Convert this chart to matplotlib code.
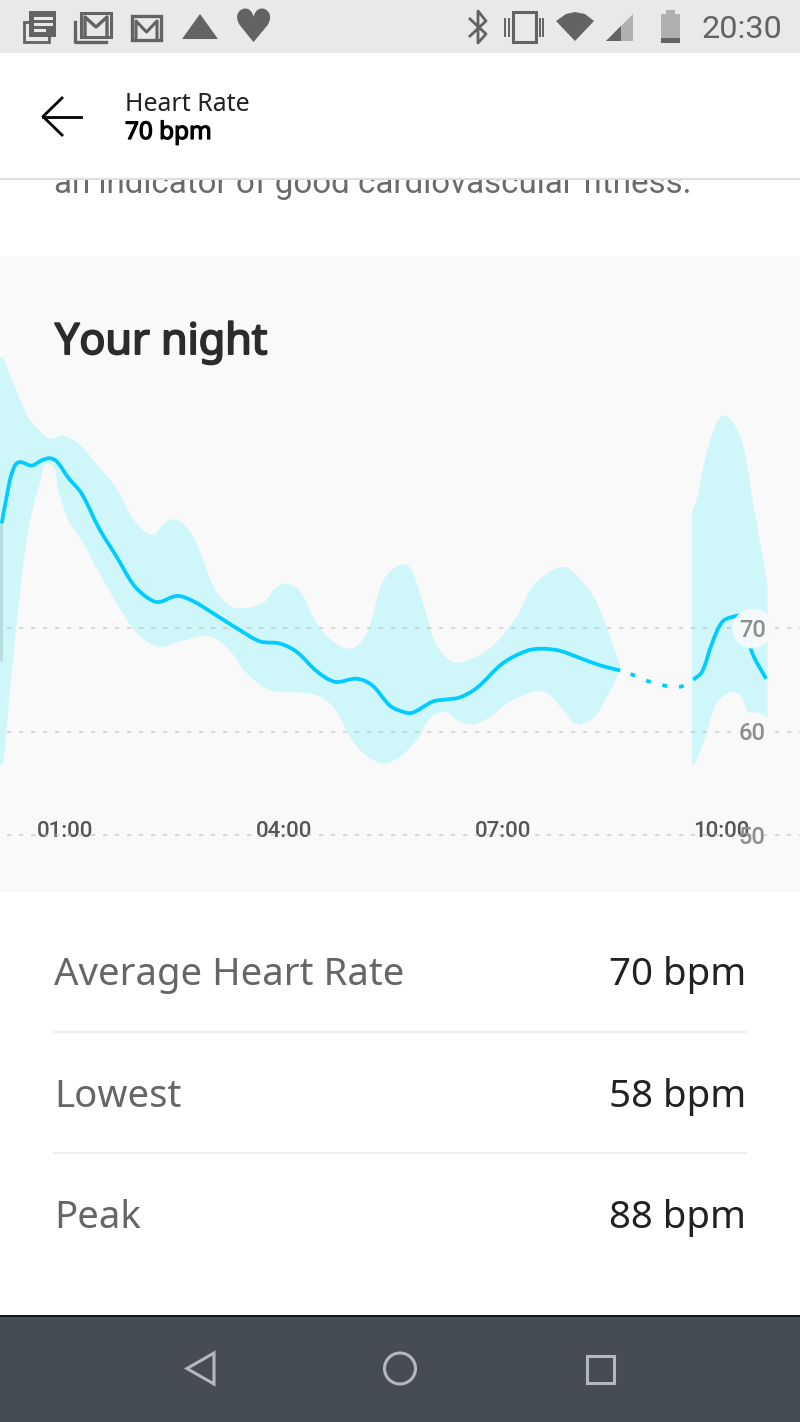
import numpy as np
import matplotlib
matplotlib.use('Agg')
import matplotlib.pyplot as plt
import matplotlib.patheffects as pe
from matplotlib.patches import Circle, PathPatch, Polygon, Rectangle
from matplotlib.path import Path

# ── DATA (hours after midnight, bpm)
line_hours = [0.125, 0.193, 0.262, 0.353, 0.536, 0.674, 0.787, 0.879, 1.04, 1.22, 1.47, 1.70, 1.93, 2.11,
              2.27, 2.53, 2.75, 3.03, 3.39, 3.67, 3.94, 4.17, 4.45, 4.70, 4.99, 5.20, 5.45, 5.59, 5.75,
              6.04, 6.23, 6.41, 6.64, 7.00, 7.33, 7.55, 7.78, 8.02, 8.33, 8.61]
line_bpm = [80.1, 82.7, 84.9, 86.0, 85.7, 86.2, 86.4, 86.1, 84.5, 83.0, 79.5, 76.9, 74.2, 73.0,
            72.5, 73.1, 72.6, 71.4, 69.8, 68.7, 68.5, 67.7, 65.8, 64.8, 65.1, 64.5, 62.5, 62.0, 61.8,
            62.9, 63.1, 63.3, 64.2, 66.6, 67.8, 68.0, 67.8, 67.2, 66.4, 65.9]

gap_hours = [8.61, 8.81, 9.02, 9.33, 9.47, 9.61]
gap_bpm = [65.9, 65.4, 64.8, 64.3, 64.4, 65.0]

end_hours = [9.61, 9.73, 9.87, 10.01, 10.16, 10.29, 10.42, 10.61]
end_bpm = [65.0, 65.75, 68.55, 70.6, 71.1, 71.1, 67.6, 65.1]

upper_hours = [0.10, 0.14, 0.28, 0.47, 0.65, 0.79, 0.97, 1.20, 1.43, 1.70, 1.95, 2.20, 2.34, 2.50, 2.68, 2.84,
               3.03, 3.21, 3.37, 3.71, 3.87, 4.03, 4.22, 4.49, 4.88, 5.13, 5.36, 5.59, 5.73, 5.86, 6.04,
               6.18, 6.37, 6.69, 6.92, 7.19, 7.44, 7.82, 8.02, 8.29, 8.61]
upper_bpm = [96.2, 96.1, 93.7, 90.6, 89.0, 88.3, 88.55, 87.7, 85.75, 83.5, 80.3, 79.0, 80.0, 80.5, 79.6, 77.5,
             74.0, 72.4, 71.9, 72.4, 73.8, 74.3, 73.5, 70.0, 68.0, 69.5, 74.6, 76.1, 75.8, 73.4, 69.2,
             67.4, 66.65, 67.4, 68.7, 71.1, 74.3, 75.9, 75.0, 72.4, 66.3]

lower_hours = [0.10, 0.14, 0.24, 0.38, 0.49, 0.65, 0.78, 0.90, 1.04, 1.24, 1.52, 1.79, 2.02, 2.30, 2.57, 2.96,
               3.21, 3.49, 3.81, 4.40, 4.67, 4.90, 5.09, 5.36, 5.59, 5.82, 6.00, 6.21, 6.37, 6.59, 6.82,
               7.10, 7.47, 7.65, 7.82, 8.02, 8.24, 8.43, 8.61]
lower_bpm = [56.8, 56.8, 64.0, 73.7, 79.5, 84.0, 85.9, 83.3, 80.4, 78.2, 74.6, 71.4, 69.2, 68.2, 68.7, 69.2,
             68.2, 65.6, 64.0, 63.6, 62.4, 59.5, 57.9, 56.9, 57.6, 59.2, 61.3, 61.9, 61.1, 60.7, 61.4,
             62.9, 63.9, 63.5, 62.1, 60.7, 61.3, 63.4, 65.9]

upper2_hours = [9.59, 9.66, 9.77, 9.89, 10.02, 10.16, 10.30, 10.41, 10.63]
upper2_bpm = [81.2, 82.4, 86.2, 89.1, 90.5, 89.8, 87.5, 83.0, 74.15]
lower2_hours = [9.59, 9.62, 9.75, 9.93, 10.14, 10.27, 10.36, 10.50, 10.63]
lower2_bpm = [56.9, 56.8, 58.9, 62.7, 63.8, 63.4, 61.9, 61.8, 61.4]

tick_hours = [1, 4, 7, 10]
tick_labels = ['01:00', '04:00', '07:00', '10:00']
grid_bpm = [50, 60, 70]

stat_names = ['Average Heart Rate', 'Lowest', 'Peak']
stat_values = ['70 bpm', '58 bpm', '88 bpm']

LINE = '#00ccff'
BAND = '#cff6f9'
PANEL = '#f9f9f9'
ICON = '#636363'
px_per_hour = 72.9
px_per_bpm = 10.35


def smooth(xs, ys):
    # bezier through the read points, only for drawing
    k = px_per_bpm / px_per_hour
    p = np.column_stack([xs, np.asarray(ys) * k])
    d = np.diff(p, axis=0)
    seg = np.hypot(d[:, 0], d[:, 1])
    t = np.vstack([d[0], p[2:] - p[:-2], d[-1]])
    t = t / np.hypot(t[:, 0], t[:, 1])[:, None]
    verts = [p[0]]
    for i in range(len(p) - 1):
        verts += [p[i] + t[i] * seg[i] / 3, p[i + 1] - t[i + 1] * seg[i] / 3, p[i + 1]]
    verts = [(v[0], v[1] / k) for v in verts]
    codes = [Path.MOVETO] + [Path.CURVE4] * (len(verts) - 1)
    return verts, codes


def band_path(up_x, up_y, low_x, low_y):
    v1, c1 = smooth(up_x, up_y)
    v2, c2 = smooth(low_x[::-1], low_y[::-1])
    c2[0] = Path.LINETO
    return Path(v1 + v2 + [v1[0]], c1 + c2 + [Path.CLOSEPOLY])


def fake_bold(txt, width):
    # Noto Sans only comes in one weight here
    txt.set_path_effects([pe.withStroke(linewidth=width, foreground=txt.get_color())])


fig = plt.figure(figsize=(8, 14.22), dpi=100, facecolor='white')

# ── SCREEN CHROME (pixel coordinates)
bg = fig.add_axes([0, 0, 1, 1])
bg.set_xlim(0, 800)
bg.set_ylim(1422, 0)
bg.axis('off')

bg.add_patch(Rectangle((0, 0), 800, 53, color='#e9e9e9', lw=0))
bg.add_patch(Rectangle((0, 178), 800, 2, color='#dedede', lw=0))
bg.add_patch(Rectangle((0, 256), 800, 636, color=PANEL, lw=0))
bg.add_patch(Rectangle((0, 1315), 800, 2, color='#15181a', lw=0))
bg.add_patch(Rectangle((0, 1317), 800, 105, color='#454c52', lw=0))

# news icon
bg.add_patch(Rectangle((24, 22), 25, 20, fc='none', ec=ICON, lw=2))
bg.add_patch(Rectangle((29, 11), 27, 26, fc=ICON, ec=ICON, lw=0))
bg.plot([35, 51], [18, 18], color='#e9e9e9', lw=2.2)
bg.plot([35, 51], [24, 24], color='#e9e9e9', lw=2.2)
bg.plot([35, 44], [30, 30], color='#e9e9e9', lw=2.2)
# mail stack
bg.plot([75, 75, 106], [22, 42, 42], color=ICON, lw=2.4)
bg.add_patch(Rectangle((81, 13), 30, 24, fc='none', ec=ICON, lw=2.2))
bg.plot([85, 85, 96, 107, 107], [35, 17, 27, 17, 35], color=ICON, lw=2.4)
# mail
bg.add_patch(Rectangle((132, 16), 29, 24, fc='none', ec=ICON, lw=2.4))
bg.plot([136, 136, 146.5, 157, 157], [39, 21, 32, 21, 39], color=ICON, lw=2.2)
# triangle
bg.add_patch(Polygon([(182, 39), (200, 14), (218, 39)], color=ICON, lw=0))
# heart
bg.text(253.5, 30, '♥', fontsize=33, color=ICON, ha='center', va='center', family='DejaVu Sans')
bg.plot([246, 256], [27, 13], color='#e9e9e9', lw=1.5)
# bluetooth
bg.plot([470, 486, 478, 478, 486, 470], [19, 34, 43, 11, 21, 36], color=ICON, lw=2)
# vibrate
bg.add_patch(Rectangle((513, 12), 23, 30, fc='none', ec=ICON, lw=2.2))
for vx in (505, 509, 540, 543):
    bg.plot([vx, vx], [19, 36], color=ICON, lw=1.4)
# wifi
bg.add_patch(Polygon([(556, 21), (566, 14), (575, 12), (585, 14), (594, 21), (575, 41)], color=ICON, lw=0))
# signal
bg.add_patch(Polygon([(606, 41), (633, 14), (633, 41)], color='#b0b0b0', lw=0))
bg.add_patch(Polygon([(606, 41), (621, 26), (621, 41)], color=ICON, lw=0))
# battery
bg.add_patch(Rectangle((661, 14), 19, 29, color='#b0b0b0', lw=0))
bg.add_patch(Rectangle((666, 10), 9, 4, color='#b0b0b0', lw=0))
bg.add_patch(Rectangle((661, 38), 19, 5, color=ICON, lw=0))
bg.text(782, 29, '20:30', fontsize=23.3, color=ICON, ha='right', va='center', family='Roboto')

# back arrow and header
bg.plot([81, 43], [116.5, 116.5], color='black', lw=2)
bg.plot([62, 43, 62], [98, 116.5, 135], color='black', lw=2)
bg.text(125, 104.5, 'Heart Rate', fontsize=17.95, color='#222222', va='center', family='Noto Sans')
head = bg.text(125, 133, '70 bpm', fontsize=17.5, color='black', va='center', family='Noto Sans')
fake_bold(head, 0.9)

cut = bg.text(54, 184, 'an indicator of good cardiovascular fitness.', fontsize=23.9, color='#6a6a6a',
              va='center', family='Roboto')
cut.set_clip_path(Rectangle((0, 180), 800, 76, transform=bg.transData))
cut.set_clip_on(True)

title = bg.text(55, 343, 'Your night', fontsize=31, color='#2b2b2b', va='center', family='Noto Sans')
fake_bold(title, 1.4)

# stat rows
for y, name, value in zip([975, 1097, 1218], stat_names, stat_values):
    bg.text(54, y, name, fontsize=27.6, color='#666666', va='center', family='Noto Sans')
    bg.text(746, y, value, fontsize=27.7, color='#222222', va='center', ha='right', family='Noto Sans')
for y in (1032, 1153):
    bg.plot([54, 746], [y, y], color='#eeeeee', lw=1.5)

# nav bar
bg.add_patch(Polygon([(187, 1368.5), (214, 1353), (214, 1384)], fc='none', ec='#b4b8bb', lw=2.2))
bg.add_patch(Circle((400, 1368.5), 15.5, fc='none', ec='#b4b8bb', lw=2.2))
bg.add_patch(Rectangle((586.5, 1355.5), 27, 27, fc='none', ec='#b4b8bb', lw=2.2))

# ── CHART
ax = fig.add_axes([0, (1422 - 892) / 1422, 1, 636 / 1422])
ax.patch.set_alpha(0)
for side in ax.spines.values():
    side.set_visible(False)

ax.set_xlim(1 - 65.5 / px_per_hour, 1 + (800 - 65.5) / px_per_hour)
ax.set_ylim(70 - (892 - 628) / px_per_bpm, 70 + (628 - 256) / px_per_bpm)

ax.set_xticks(tick_hours, tick_labels)
ax.set_yticks(grid_bpm, [])
ax.tick_params(axis='x', length=0, pad=-51, labelsize=16, labelcolor='#555555')
ax.tick_params(axis='y', length=0)
for lab in ax.get_xticklabels():
    lab.set_family('Roboto')
    lab.set_weight('medium')
    lab.set_zorder(6)
ax.grid(axis='x', visible=False)
ax.grid(axis='y', color='#bbbbbb', alpha=0.5, lw=1.4, ls=(2.57, (2.2, 3.97)))
ax.set_axisbelow(False)

ax.add_patch(PathPatch(band_path(upper_hours, upper_bpm, lower_hours, lower_bpm), fc=BAND, ec='none', zorder=2))
ax.add_patch(PathPatch(band_path(upper2_hours, upper2_bpm, lower2_hours, lower2_bpm), fc=BAND, ec='none', zorder=2))

# darker strip on the left edge
ax.plot([line_hours[0] - 0.015] * 2, [line_bpm[0], 66.8], color='#b3dde0', lw=2, zorder=3, solid_capstyle='butt')

for xs, ys in [(line_hours, line_bpm), (end_hours, end_bpm)]:
    v, c = smooth(xs, ys)
    ax.add_patch(PathPatch(Path(v, c), fc='none', ec=LINE, lw=2.7, capstyle='butt', zorder=4))
v, c = smooth(gap_hours, gap_bpm)
ax.add_patch(PathPatch(Path(v, c), fc='none', ec=LINE, lw=2.7, ls=(1.6, (1.3, 3.2)), zorder=4))

# label bubbles
ax.scatter([10.42], [70], s=830, color='#f4fafa', lw=0, zorder=5)
ax.scatter([10.42], [60], s=830, color=PANEL, lw=0, zorder=3)
for b in grid_bpm:
    ax.text(10.42, b, str(b), fontsize=17, color='#8e8e8e', ha='center', va='center_baseline', family='Roboto',
            weight='medium', zorder=6)

fig.savefig('out.png', dpi=100)
plt.close(fig)
